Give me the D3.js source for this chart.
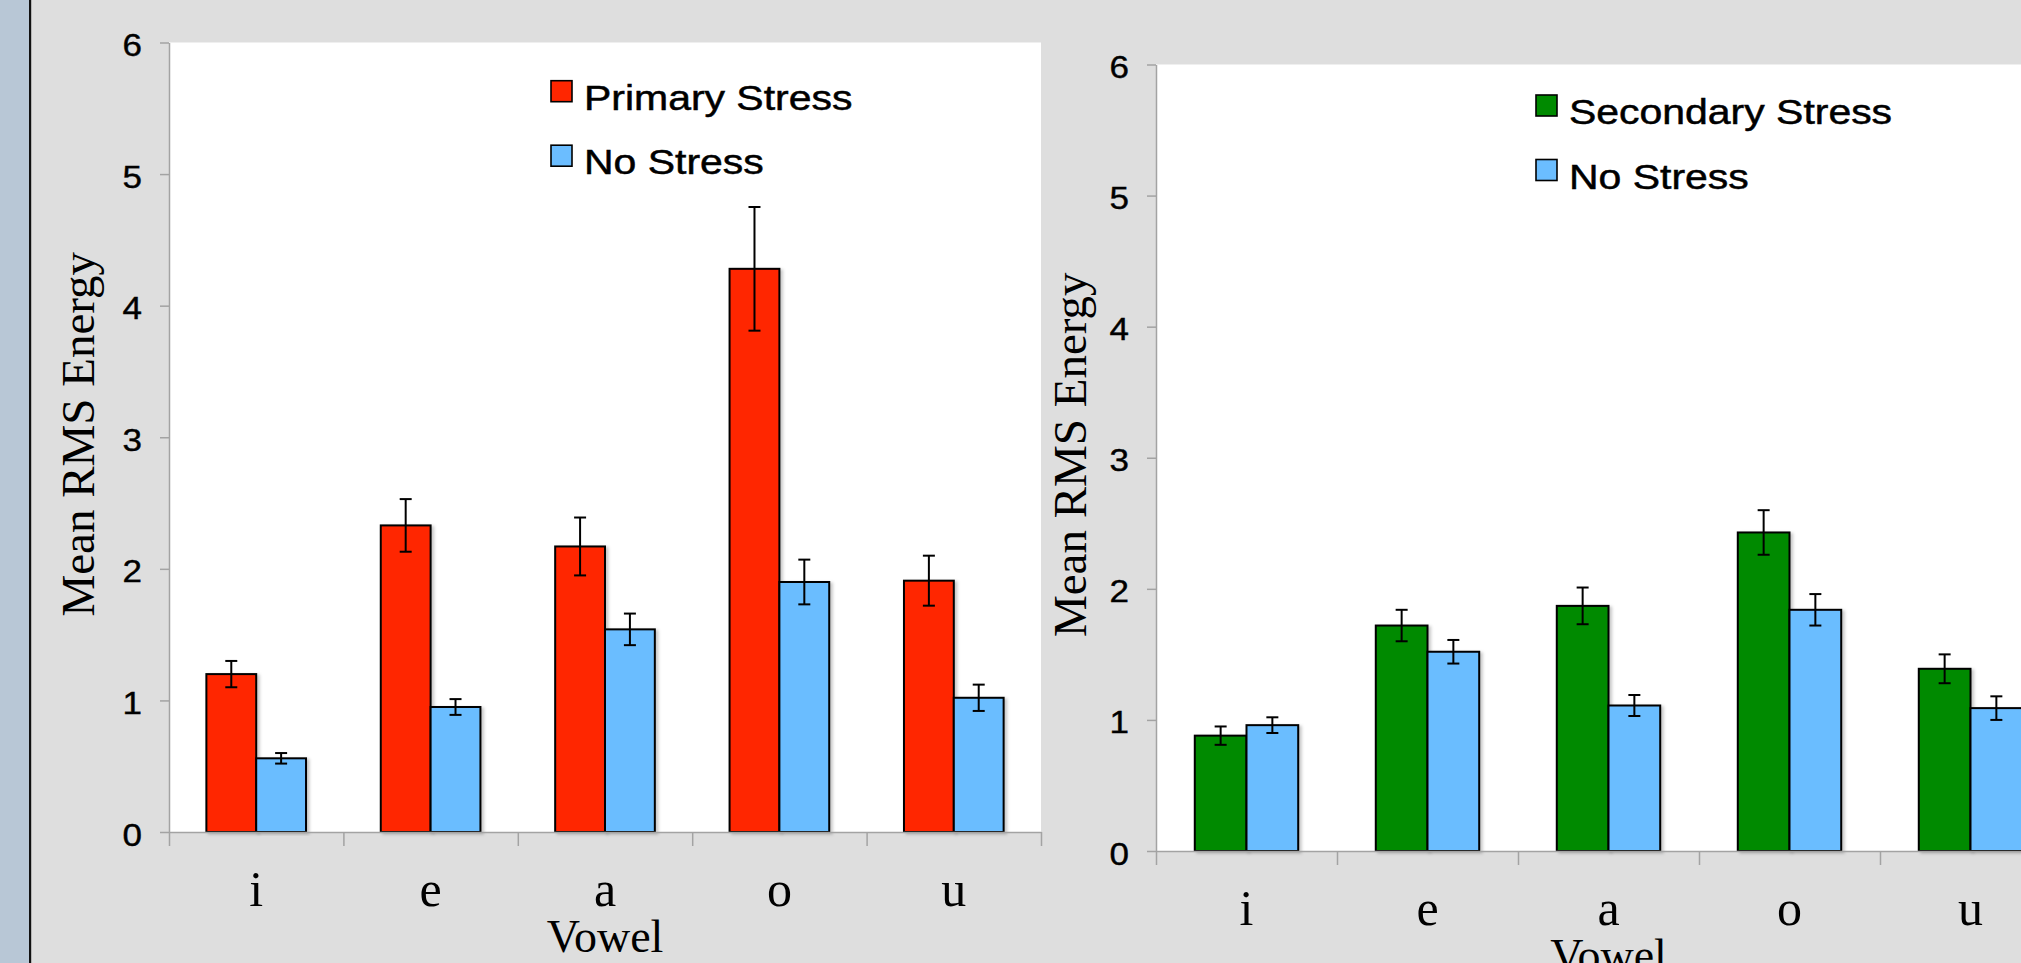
<!DOCTYPE html>
<html>
<head>
<meta charset="utf-8">
<script src="https://cdn.jsdelivr.net/npm/d3@7"></script>
<style>
  html, body { margin: 0; padding: 0; background: #dedede; overflow: hidden; }
  svg { display: block; }
</style>
</head>
<body>
<svg id="chart" width="2021" height="963"></svg>
<script>
// Vowel categories and y-axis ticks
const vowels = ["i", "e", "a", "o", "u"];
const yTicks = [0, 1, 2, 3, 4, 5, 6];

// Panel A: primary stress vs. no stress (mean RMS energy, ± standard error)
const primaryStress    = [1.20, 2.33, 2.17, 4.28, 1.91];
const primaryStressErr = [0.10, 0.20, 0.22, 0.47, 0.19];
const noStressA        = [0.56, 0.95, 1.54, 1.90, 1.02];
const noStressAErr     = [0.04, 0.06, 0.12, 0.17, 0.10];

// Panel B: secondary stress vs. no stress
const secondaryStress    = [0.88, 1.72, 1.87, 2.43, 1.39];
const secondaryStressErr = [0.07, 0.12, 0.14, 0.17, 0.11];
const noStressB          = [0.96, 1.52, 1.11, 1.84, 1.09];
const noStressBErr       = [0.06, 0.09, 0.08, 0.12, 0.09];

const SANS = "'Liberation Sans', Arial, Helvetica, sans-serif";
const SERIF = "'Liberation Serif', 'Times New Roman', Times, serif";
const AXIS_GRAY = "#a3a3a3";

const panels = [
  {
    left: 169, right: 1041, top: 42.5, bottom: 832,
    legendX: 551, legendY: 80.7, titleX: 94,
    series: [
      { name: "Primary Stress", color: "#ff2600", values: primaryStress, errors: primaryStressErr },
      { name: "No Stress", color: "#6bbdff", values: noStressA, errors: noStressAErr }
    ]
  },
  {
    left: 1156, right: 2061, top: 64.5, bottom: 851,
    legendX: 1536, legendY: 95, titleX: 1086,
    series: [
      { name: "Secondary Stress", color: "#008a00", values: secondaryStress, errors: secondaryStressErr },
      { name: "No Stress", color: "#6bbdff", values: noStressB, errors: noStressBErr }
    ]
  }
];

const svg = d3.select("#chart");

// slide backdrop: blue-grey margin strip with a dark rule
svg.append("rect").attr("x", 0).attr("y", 0).attr("width", 2021).attr("height", 963).attr("fill", "#dedede");
svg.append("rect").attr("x", 0).attr("y", 0).attr("width", 30).attr("height", 963).attr("fill", "#b8c7d6");
svg.append("rect").attr("x", 29).attr("y", 0).attr("width", 2.2).attr("height", 963).attr("fill", "#111");

// soft bar shadow
const defs = svg.append("defs");
const shadow = defs.append("filter").attr("id", "barShadow")
  .attr("x", "-20%").attr("y", "-5%").attr("width", "140%").attr("height", "110%");
shadow.append("feDropShadow").attr("dx", 2.5).attr("dy", 1.5).attr("stdDeviation", 1.8)
  .attr("flood-color", "#000").attr("flood-opacity", 0.22);

panels.forEach(p => {
  const g = svg.append("g");

  // plot area
  g.append("rect")
    .attr("x", p.left).attr("y", p.top)
    .attr("width", p.right - p.left).attr("height", p.bottom - p.top)
    .attr("fill", "#ffffff");

  const y = d3.scaleLinear().domain([0, 6]).range([p.bottom, p.top]);
  const x = d3.scaleBand().domain(vowels).range([p.left, p.right]).padding(0);
  const xBound = d3.scaleLinear().domain([0, vowels.length]).range([p.left, p.right]);
  const names = p.series.map(s => s.name);
  const xs = d3.scaleBand().domain(names).range([0, x.bandwidth()]).paddingInner(0).paddingOuter(0.75);

  // bars
  p.series.forEach(s => {
    g.append("g").selectAll("rect")
      .data(vowels.map((v, i) => ({ v, val: s.values[i] })))
      .join("rect")
      .attr("x", d => x(d.v) + xs(s.name))
      .attr("y", d => y(d.val))
      .attr("width", xs.bandwidth())
      .attr("height", d => y(0) - y(d.val))
      .attr("fill", s.color)
      .attr("stroke", "#000")
      .attr("stroke-width", 2)
      .attr("filter", "url(#barShadow)");
  });

  // error bars
  p.series.forEach(s => {
    const eg = g.append("g").attr("stroke", "#000").attr("stroke-width", 2);
    vowels.forEach((v, i) => {
      const cx = x(v) + xs(s.name) + xs.bandwidth() / 2;
      const hi = y(s.values[i] + s.errors[i]);
      const lo = y(s.values[i] - s.errors[i]);
      eg.append("line").attr("x1", cx).attr("x2", cx).attr("y1", hi).attr("y2", lo);
      eg.append("line").attr("x1", cx - 6).attr("x2", cx + 6).attr("y1", hi).attr("y2", hi);
      eg.append("line").attr("x1", cx - 6).attr("x2", cx + 6).attr("y1", lo).attr("y2", lo);
    });
  });

  // y axis
  const yAxis = g.append("g")
    .attr("transform", `translate(${p.left},0)`)
    .call(d3.axisLeft(y).tickValues(yTicks).tickFormat(d3.format("d")).tickSize(9).tickSizeOuter(0));
  yAxis.select(".domain").attr("stroke", AXIS_GRAY).attr("stroke-width", 1.5);
  yAxis.selectAll(".tick line").attr("stroke", AXIS_GRAY).attr("stroke-width", 1.5);
  yAxis.selectAll(".tick text")
    .attr("x", null).attr("dy", null)
    .attr("transform", "translate(-27,13) scale(1.13,1)")
    .attr("fill", "#000")
    .attr("stroke", "#000").attr("stroke-width", 0.4)
    .style("font-family", SANS).style("font-size", "31px");

  // x axis: boundary tick marks
  const xTickAxis = g.append("g")
    .attr("transform", `translate(0,${p.bottom})`)
    .call(d3.axisBottom(xBound).tickValues(d3.range(vowels.length + 1)).tickFormat("").tickSize(14).tickSizeOuter(0));
  xTickAxis.select(".domain").attr("stroke", AXIS_GRAY).attr("stroke-width", 1.5);
  xTickAxis.selectAll(".tick line").attr("stroke", AXIS_GRAY).attr("stroke-width", 1.5);

  // x axis: category labels centred in each band
  const xLabelAxis = g.append("g")
    .attr("transform", `translate(0,${p.bottom})`)
    .call(d3.axisBottom(x).tickSize(0).tickPadding(0));
  xLabelAxis.select(".domain").remove();
  xLabelAxis.selectAll(".tick text")
    .attr("y", 74).attr("dy", null)
    .attr("fill", "#000")
    .style("font-family", SERIF).style("font-size", "50px");

  // axis titles
  g.append("text")
    .attr("x", (p.left + p.right) / 2).attr("y", p.bottom + 120)
    .attr("text-anchor", "middle")
    .style("font-family", SERIF).style("font-size", "46px").attr("fill", "#000")
    .text("Vowel");

  g.append("text")
    .attr("transform", `translate(${p.titleX},${(p.top + p.bottom) / 2 - 3}) rotate(-90)`)
    .attr("text-anchor", "middle")
    .style("font-family", SERIF).style("font-size", "47px").attr("fill", "#000")
    .text("Mean RMS Energy");

  // legend
  const lg = g.append("g");
  p.series.forEach((s, i) => {
    const ly = p.legendY + i * 64.5;
    lg.append("rect")
      .attr("x", p.legendX).attr("y", ly)
      .attr("width", 21).attr("height", 21)
      .attr("fill", s.color).attr("stroke", "#000").attr("stroke-width", 1.6);
    lg.append("text")
      .attr("transform", `translate(${p.legendX + 33},${ly + 29}) scale(1.17,1)`)
      .attr("fill", "#000")
      .attr("stroke", "#000").attr("stroke-width", 0.5)
      .style("font-family", SANS).style("font-size", "35px")
      .text(s.name);
  });
});
</script>
</body>
</html>
